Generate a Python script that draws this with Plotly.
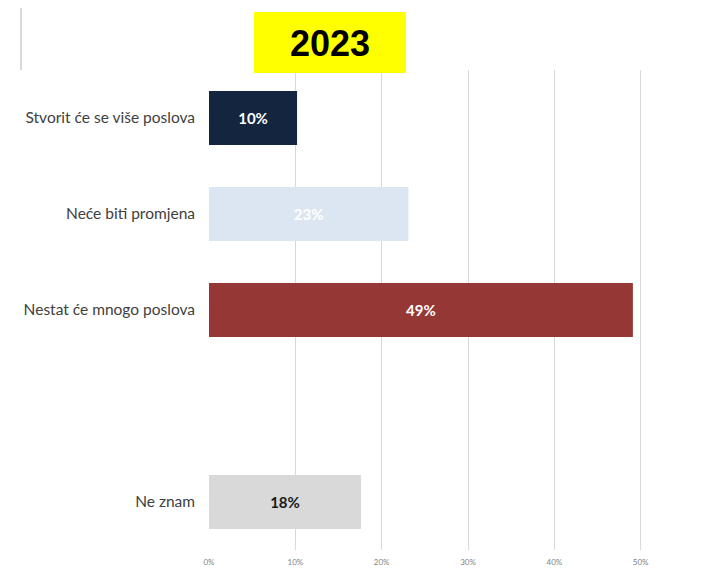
import plotly.graph_objects as go

# survey answers, top to bottom (blank slot keeps the gap before "Ne znam")
categories = ["Stvorit će se više poslova", "Neće biti promjena",
              "Nestat će mnogo poslova", " ", "Ne znam"]
shares = [0.102, 0.231, 0.491, None, 0.176]
bar_colors = ["#13253F", "#DCE6F2", "#953735", "#FFFFFF", "#D9D9D9"]
label_colors = ["#FFFFFF", "#FFFFFF", "#FFFFFF", "#FFFFFF", "#1A1A1A"]
x_ticks = [0, 0.1, 0.2, 0.3, 0.4, 0.5, 0.6]
year = "2023"

# page sits 8px in from the window corner (body margin), plot is 209..727 x 70..550
def px(x):
    return (x - 209) / 518

def py(y):
    return (550 - y) / 480

fig = go.Figure()

fig.add_trace(go.Bar(
    x=shares, y=categories, orientation="h",
    marker=dict(color=bar_colors, line=dict(width=0)),
    width=0.56,
    texttemplate="%{x:.0%}", textposition="inside",
    insidetextanchor="middle", constraintext="none",
    textfont=dict(family="Lato", size=15, color=label_colors, weight="bold"),
    hoverinfo="skip",
))

# yellow year box above the plot
fig.add_shape(type="rect", xref="paper", yref="paper",
              x0=px(254), x1=px(406), y0=py(73), y1=py(12),
              fillcolor="#FFFF00", line=dict(width=0), layer="above")
fig.add_annotation(text="<b>" + year + "</b>", xref="paper", yref="paper",
                   x=px(330), y=py(44), xanchor="center", yanchor="middle",
                   showarrow=False,
                   font=dict(family="Liberation Sans", size=36, color="#000000"))

# thin leftover line at the top left
fig.add_shape(type="line", xref="paper", yref="paper",
              x0=px(21), x1=px(21), y0=py(70), y1=py(0),
              line=dict(color="#D9D9D9", width=2))

fig.update_layout(
    width=719, height=562,
    margin=dict(l=201, r=0, t=62, b=20),
    paper_bgcolor="#FFFFFF", plot_bgcolor="#FFFFFF",
    showlegend=False,
    xaxis=dict(range=[0, 0.6], tickvals=x_ticks, tickformat=".0%",
               showgrid=True, gridcolor="#D9D9D9", gridwidth=1,
               zeroline=False, showline=False, automargin=False,
               tickfont=dict(family="Lato", size=8, color="#7F7F7F"),
               ticks="outside", ticklen=4, tickcolor="rgba(0,0,0,0)",
               ticklabeloverflow="allow"),
    yaxis=dict(categoryorder="array", categoryarray=categories,
               range=[4.5, -0.5], showgrid=False, zeroline=False,
               showline=False, automargin=False,
               tickfont=dict(family="Lato", size=15.5, color="#404040"),
               ticklabelstandoff=13),
)

fig.write_html("out.html")
